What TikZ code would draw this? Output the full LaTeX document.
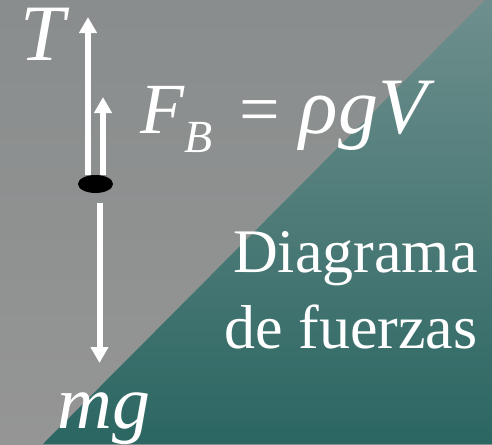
\documentclass[tikz,border=0pt]{standalone}
\usepackage{fontspec}
\setmainfont{Liberation Serif}
\usetikzlibrary{arrows.meta,shapes.geometric}
\definecolor{bgtop}{RGB}{137,141,141}
\definecolor{bgbot}{RGB}{149,149,149}
\definecolor{tealtop}{RGB}{110,143,141}
\definecolor{tealbot}{RGB}{43,102,98}
\begin{document}
\begin{tikzpicture}[
  x=0.5pt, y=-0.5pt,
  force/.style = {-{Triangle[width=8.5pt,length=8pt]}, white, line width=3pt},
  lbl/.style = {text=white, inner sep=0pt}]
  % fondo
  \shade[top color=bgtop, bottom color=bgbot] (0,0) rectangle (492,444);
  \shade[top color=tealtop, bottom color=tealbot] (485,0) -- (492,0) -- (492,444) -- (43,444) -- cycle;

  % cuerpo
  \node[ellipse, fill=black, minimum width=17.5pt, minimum height=9pt, inner sep=0pt] (body) at (95.5,184) {};

  % puntas de las fuerzas
  \coordinate (Ttip) at (88,17);
  \coordinate (FBtip) at (103,97);
  \coordinate (mgtip) at (99.5,363);

  % fuerzas
  \draw[force] (body.north -| Ttip) -- (Ttip);
  \draw[force] (body.north -| FBtip) -- (FBtip);
  \draw[force] ([yshift=-5pt]body.south -| mgtip) -- (mgtip);

  % etiquetas
  \node[lbl, anchor=base west, font=\fontsize{40}{40}\selectfont\itshape] (Tlbl) at (20,60) {T};
  \node[lbl, anchor=base west, font=\fontsize{36}{36}\selectfont] (FBlbl) at (140,133)
    {\textit{F}\raisebox{-9.5pt}{\fontsize{23}{23}\selectfont\textit{B}}\hspace{13pt}=\hspace{10pt}{\fontsize{40}{40}\selectfont\textit{ρgV}}};
  \node[lbl, anchor=base west, font=\fontsize{38}{38}\selectfont\itshape] (mglbl) at (57,428) {mg};
  \node[lbl, anchor=base east, font=\fontsize{31}{31}\selectfont] (diag1) at (478,272) {Diagrama};
  \node[lbl, anchor=base east, font=\fontsize{31}{31}\selectfont] (diag2) at (478,348) {de fuerzas};
\end{tikzpicture}
\end{document}
